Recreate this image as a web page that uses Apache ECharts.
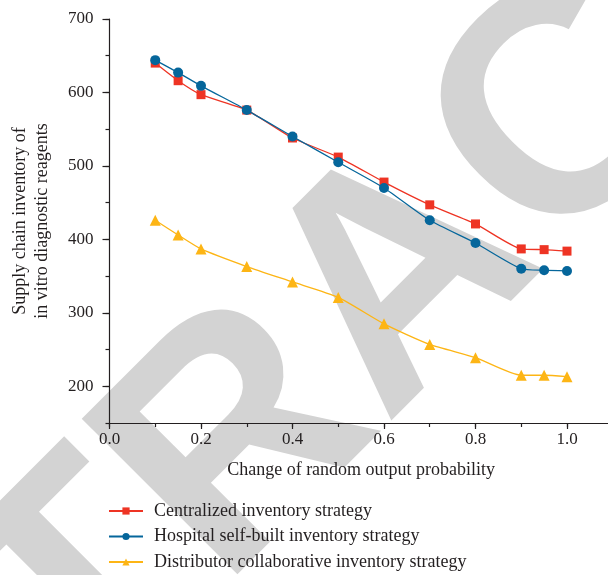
<!DOCTYPE html>
<html><head><meta charset="utf-8">
<script src="https://cdn.jsdelivr.net/npm/echarts@6/dist/echarts.min.js"></script>
<style>html,body{margin:0;padding:0;background:#fff}#c{width:608px;height:575px}</style>
</head><body><div id="c"></div>
<script>
const xValues = [0.1, 0.15, 0.2, 0.3, 0.4, 0.5, 0.6, 0.7, 0.8, 0.9, 0.95, 1.0];
const centralized = [640, 616, 597, 576, 538, 512, 478, 447, 421, 387, 386, 384];
const hospital = [644, 627, 609, 576, 540, 505, 470, 426, 395, 360, 358, 357];
const distributor = [426, 406, 387, 363, 342, 321, 285, 257, 239, 215, 215, 213];
const seriesNames = ['Centralized inventory strategy', 'Hospital self-built inventory strategy', 'Distributor collaborative inventory strategy'];
const xName = 'Change of random output probability';
const yName = 'Supply chain inventory of\nin vitro diagnostic reagents';
const watermark = 'RETRACTED';

const pair = v => v.map((y, i) => [xValues[i], y]);
const FONT = 'Liberation Serif';
const TXT = '#231f20';

const chart = echarts.init(document.getElementById('c'), null, {renderer: 'canvas'});
chart.setOption({
  animation: false,
  backgroundColor: '#fff',
  textStyle: {fontFamily: FONT, color: TXT},
  graphic: {elements: [{
    type: 'text', z: -10, x: 405, y: 282, rotation: Math.PI / 4,
    style: {text: watermark, font: 'bold 320px "Liberation Sans"', fill: '#d3d3d3', align: 'center', verticalAlign: 'middle'}
  }]},
  grid: {left: 109.5, right: -4.75, top: 19, bottom: 152, containLabel: false, outerBoundsMode: 'none'},
  legend: {
    orient: 'vertical', left: 108, top: 502, padding: 0, itemGap: 7.5, itemWidth: 34, itemHeight: 9,
    data: seriesNames,
    textStyle: {fontFamily: FONT, fontSize: 18, color: TXT, padding: [0, 0, 0, 6]}
  },
  xAxis: [{
    type: 'value', min: 0, max: 1.1, interval: 0.2,
    name: xName, nameLocation: 'middle', nameGap: 38,
    nameTextStyle: {fontFamily: FONT, fontSize: 18, color: TXT},
    axisLine: {lineStyle: {color: TXT, width: 1.2}},
    axisTick: {show: true, inside: false, length: 6, lineStyle: {color: TXT, width: 1.2}},
    axisLabel: {fontFamily: FONT, fontSize: 17, color: TXT, margin: 8, showMaxLabel: false,
      formatter: v => v.toFixed(1)},
    splitLine: {show: false}
  }, {
    type: 'value', min: 0, max: 1.1, interval: 0.1, position: 'bottom',
    axisLine: {show: false}, axisLabel: {show: false}, splitLine: {show: false},
    axisTick: {show: true, inside: false, length: 4, lineStyle: {color: TXT, width: 1.2}}
  }],
  yAxis: [{
    type: 'value', min: 150, max: 700, splitNumber: 5,
    name: yName, nameLocation: 'middle', nameGap: 56, nameRotate: 90,
    nameTextStyle: {fontFamily: FONT, fontSize: 18, color: TXT, lineHeight: 22},
    axisLine: {show: true, lineStyle: {color: TXT, width: 1.2}},
    axisTick: {show: true, inside: false, length: 7, lineStyle: {color: TXT, width: 1.2}},
    axisLabel: {fontFamily: FONT, fontSize: 17, color: TXT, margin: 16, showMinLabel: false},
    splitLine: {show: false}
  }, {
    type: 'value', min: 150, max: 700, interval: 50, position: 'left',
    axisLine: {show: false}, axisLabel: {show: false}, splitLine: {show: false},
    axisTick: {show: true, inside: false, length: 4, lineStyle: {color: TXT, width: 1.2}}
  }],
  series: [
    {name: seriesNames[0], type: 'line', data: pair(centralized), smooth: 0.2,
     symbol: 'rect', symbolSize: 9, color: '#EE3424', lineStyle: {width: 1.3}, z: 3},
    {name: seriesNames[1], type: 'line', data: pair(hospital), smooth: 0.2,
     symbol: 'circle', symbolSize: 10, color: '#05669B', lineStyle: {width: 1.3}, z: 4},
    {name: seriesNames[2], type: 'line', data: pair(distributor), smooth: 0.2,
     symbol: 'triangle', symbolSize: 11, color: '#FDB515', lineStyle: {width: 1.3}, z: 3}
  ]
});
</script></body></html>
